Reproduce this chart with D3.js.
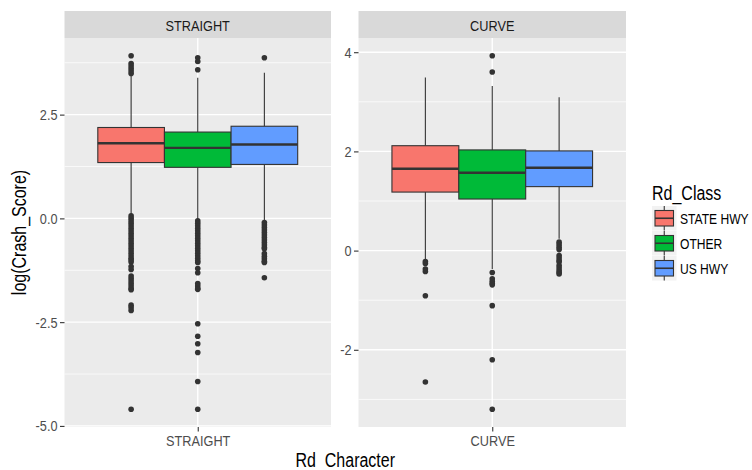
<!DOCTYPE html>
<html>
<head>
<meta charset="utf-8">
<script src="https://cdn.jsdelivr.net/npm/d3@7"></script>
<style>
  body { margin: 0; background: #fff; }
  text { font-family: "Liberation Sans", Arial, sans-serif; }
</style>
</head>
<body>
<div id="grafico"></div>
<script>
const panels = ["STRAIGHT", "CURVE"];
const classes = ["STATE HWY", "OTHER", "US HWY"];
const classColors = ["#F8766D", "#00BA38", "#619CFF"];

// box statistics, [panel][class]
const q1 = [[1.345, 1.23, 1.30], [1.18, 1.04, 1.29]];
const medians = [[1.81, 1.70, 1.78], [1.65, 1.57, 1.67]];
const q3 = [[2.19, 2.08, 2.22], [2.115, 2.03, 2.01]];
const whiskerLow = [[0.08, -0.03, -0.06], [-0.2, -0.37, 0.24]];
const whiskerHigh = [[3.46, 3.39, 3.51], [3.49, 3.32, 3.09]];

// outliers
const outStraightState = [3.92, 3.73, 3.67, 3.61, 3.55, 3.49,
  0.06, 0.0, -0.06, -0.12, -0.18, -0.24, -0.3, -0.36, -0.42, -0.48, -0.54, -0.6,
  -0.66, -0.72, -0.78, -0.84, -0.9, -0.96, -1.0, -1.05, -1.16, -1.23,
  -1.39, -1.45, -1.51, -1.57, -1.63, -1.69, -1.72, -2.09, -2.15, -2.22, -4.6];
const outStraightOther = [3.87, 3.78, 3.58,
  -0.06, -0.12, -0.18, -0.24, -0.3, -0.36, -0.42, -0.48, -0.54, -0.6, -0.66,
  -0.72, -0.78, -0.84, -0.9, -0.96, -1.02, -1.06, -1.21, -1.31,
  -1.57, -1.63, -1.69, -1.71, -2.54, -2.84, -3.02, -3.23, -3.93, -4.6];
const outStraightUs = [3.87,
  -0.1, -0.16, -0.22, -0.28, -0.34, -0.4, -0.46, -0.52, -0.58, -0.64, -0.7, -0.73,
  -0.85, -0.91, -0.97, -1.03, -1.06, -1.43];
const outCurveState = [-0.22, -0.26, -0.37, -0.42, -0.91, -2.65];
const outCurveOther = [3.93, 3.6, -0.44, -0.57, -0.62, -0.66, -0.69, -1.11, -2.2, -3.2];
const outCurveUs = [0.17, 0.12, 0.07, 0.02, -0.1, -0.15, -0.2, -0.23, -0.3, -0.35, -0.4, -0.44, -0.47];
const outliers = [
  [outStraightState, outStraightOther, outStraightUs],
  [outCurveState, outCurveOther, outCurveUs]
];

const yTicks = [[-5, -2.5, 0, 2.5], [-2, 0, 2, 4]];
const yMinor = [[-3.75, -1.25, 1.25, 3.75], [-3, -1, 1, 3]];
const asciiMinus = d3.formatLocale({ decimal: ".", thousands: ",", grouping: [3], currency: ["", ""], minus: "-" });
const yFormats = [asciiMinus.format(".1f"), asciiMinus.format("d")];

const W = 752, H = 470;
const svg = d3.select("#grafico").append("svg")
  .attr("width", W).attr("height", H);

const panelX = [[64.5, 331], [358.5, 626]];
const panelTop = 38, panelBottom = 427, stripTop = 11;

// the reference text is set in a narrow face; squeeze the glyphs horizontally
function condense(sel, k = 0.82) {
  sel.each(function () {
    const len = this.getComputedTextLength();
    d3.select(this).attr("textLength", len * k).attr("lengthAdjust", "spacingAndGlyphs");
  });
}

panels.forEach((p, i) => {
  const [x0, x1] = panelX[i];
  const g = svg.append("g");

  const vals = [];
  classes.forEach((c, j) => {
    vals.push(whiskerLow[i][j], whiskerHigh[i][j], ...outliers[i][j]);
  });
  const [mn, mx] = d3.extent(vals);
  const pad = (mx - mn) * 0.05;
  const y = d3.scaleLinear().domain([mn - pad, mx + pad]).range([panelBottom, panelTop]);
  const x = d3.scaleLinear().domain([0.4, 1.6]).range([x0, x1]);
  const dodge = d3.scaleBand().domain(classes).range([x(1 - 0.45), x(1 + 0.45)]).padding(0);

  g.append("rect").attr("x", x0).attr("y", panelTop)
    .attr("width", x1 - x0).attr("height", panelBottom - panelTop).attr("fill", "#EBEBEB");

  g.selectAll(".minor").data(yMinor[i]).enter().append("line")
    .attr("x1", x0).attr("x2", x1)
    .attr("y1", d => y(d)).attr("y2", d => y(d))
    .attr("stroke", "#fff").attr("stroke-width", 0.7);
  g.selectAll(".major").data(yTicks[i]).enter().append("line")
    .attr("x1", x0).attr("x2", x1)
    .attr("y1", d => y(d)).attr("y2", d => y(d))
    .attr("stroke", "#fff").attr("stroke-width", 1.4);
  g.append("line").attr("x1", x(1)).attr("x2", x(1))
    .attr("y1", panelTop).attr("y2", panelBottom)
    .attr("stroke", "#fff").attr("stroke-width", 1.4);

  // strip
  g.append("rect").attr("x", x0).attr("y", stripTop)
    .attr("width", x1 - x0).attr("height", panelTop - stripTop).attr("fill", "#D9D9D9");
  g.append("text").attr("x", (x0 + x1) / 2).attr("y", (stripTop + panelTop) / 2 + 1)
    .attr("text-anchor", "middle").attr("dominant-baseline", "central")
    .attr("font-size", "15.5px").attr("fill", "#1A1A1A").text(p);

  // y axis
  const yAxis = g.append("g").attr("transform", `translate(${x0},0)`)
    .call(d3.axisLeft(y).tickValues(yTicks[i]).tickFormat(yFormats[i]).tickSize(4.5).tickPadding(2.5));
  yAxis.select(".domain").remove();
  yAxis.selectAll(".tick line").attr("stroke", "#333333").attr("stroke-width", 1.1);
  yAxis.attr("font-family", null);
  yAxis.selectAll("text").attr("font-size", "15.5px").attr("fill", "#4D4D4D");

  // x axis
  const xAxis = g.append("g").attr("transform", `translate(0,${panelBottom})`)
    .call(d3.axisBottom(x).tickValues([1]).tickFormat(() => p).tickSize(4.5).tickPadding(3));
  xAxis.select(".domain").remove();
  xAxis.selectAll(".tick line").attr("stroke", "#333333").attr("stroke-width", 1.1);
  xAxis.attr("font-family", null);
  xAxis.selectAll("text").attr("font-size", "15.5px").attr("fill", "#4D4D4D");

  // boxes
  classes.forEach((c, j) => {
    const bx = dodge(c), bw = dodge.bandwidth(), cx = bx + bw / 2;
    g.append("line").attr("x1", cx).attr("x2", cx)
      .attr("y1", y(whiskerLow[i][j])).attr("y2", y(q1[i][j]))
      .attr("stroke", "#333333").attr("stroke-width", 1.1);
    g.append("line").attr("x1", cx).attr("x2", cx)
      .attr("y1", y(q3[i][j])).attr("y2", y(whiskerHigh[i][j]))
      .attr("stroke", "#333333").attr("stroke-width", 1.1);
    g.append("rect").attr("x", bx).attr("y", y(q3[i][j]))
      .attr("width", bw).attr("height", y(q1[i][j]) - y(q3[i][j]))
      .attr("fill", classColors[j]).attr("stroke", "#333333").attr("stroke-width", 1.1);
    g.append("line").attr("x1", bx).attr("x2", bx + bw)
      .attr("y1", y(medians[i][j])).attr("y2", y(medians[i][j]))
      .attr("stroke", "#333333").attr("stroke-width", 2.3);
    g.selectAll(null).data(outliers[i][j]).enter().append("circle")
      .attr("cx", cx).attr("cy", d => y(d)).attr("r", 2.8)
      .attr("fill", "#333333");
  });
});

// axis titles
svg.append("text")
  .attr("transform", `translate(19,${(panelTop + panelBottom) / 2}) rotate(-90)`)
  .attr("text-anchor", "middle").attr("dominant-baseline", "central")
  .attr("font-size", "19.5px").attr("fill", "#000").text("log(Crash_Score)");
svg.append("text")
  .attr("x", (panelX[0][0] + panelX[1][1]) / 2).attr("y", 467)
  .attr("text-anchor", "middle")
  .attr("font-size", "19.5px").attr("fill", "#000").text("Rd_Character");

svg.selectAll("text").call(condense);

// legend
const legend = svg.append("g").attr("transform", "translate(652,0)");
legend.append("text").attr("x", 0).attr("y", 200)
  .attr("font-size", "19.5px").attr("fill", "#000").text("Rd_Class")
  .call(condense);
classes.forEach((c, j) => {
  const ky = 206 + j * 25;
  legend.append("rect").attr("x", 0).attr("y", ky).attr("width", 24.5).attr("height", 24.5)
    .attr("fill", "#F2F2F2");
  legend.append("line").attr("x1", 12.25).attr("x2", 12.25).attr("y1", ky).attr("y2", ky + 24.5)
    .attr("stroke", "#333333").attr("stroke-width", 1.1);
  legend.append("rect").attr("x", 3).attr("y", ky + 4.5).attr("width", 18.5).attr("height", 15.5)
    .attr("fill", classColors[j]).attr("stroke", "#333333").attr("stroke-width", 1.1);
  legend.append("line").attr("x1", 3).attr("x2", 21.5).attr("y1", ky + 12.25).attr("y2", ky + 12.25)
    .attr("stroke", "#333333").attr("stroke-width", 1.6);
  // labels squeezed with a transform so their box stays inside the page
  legend.append("g").attr("transform", `translate(28,${ky + 12.5}) scale(0.78,1)`)
    .append("text").attr("x", 0).attr("y", 0)
    .attr("dominant-baseline", "central")
    .attr("font-size", "15.5px").attr("fill", "#000").text(c);
});
</script>
</body>
</html>
